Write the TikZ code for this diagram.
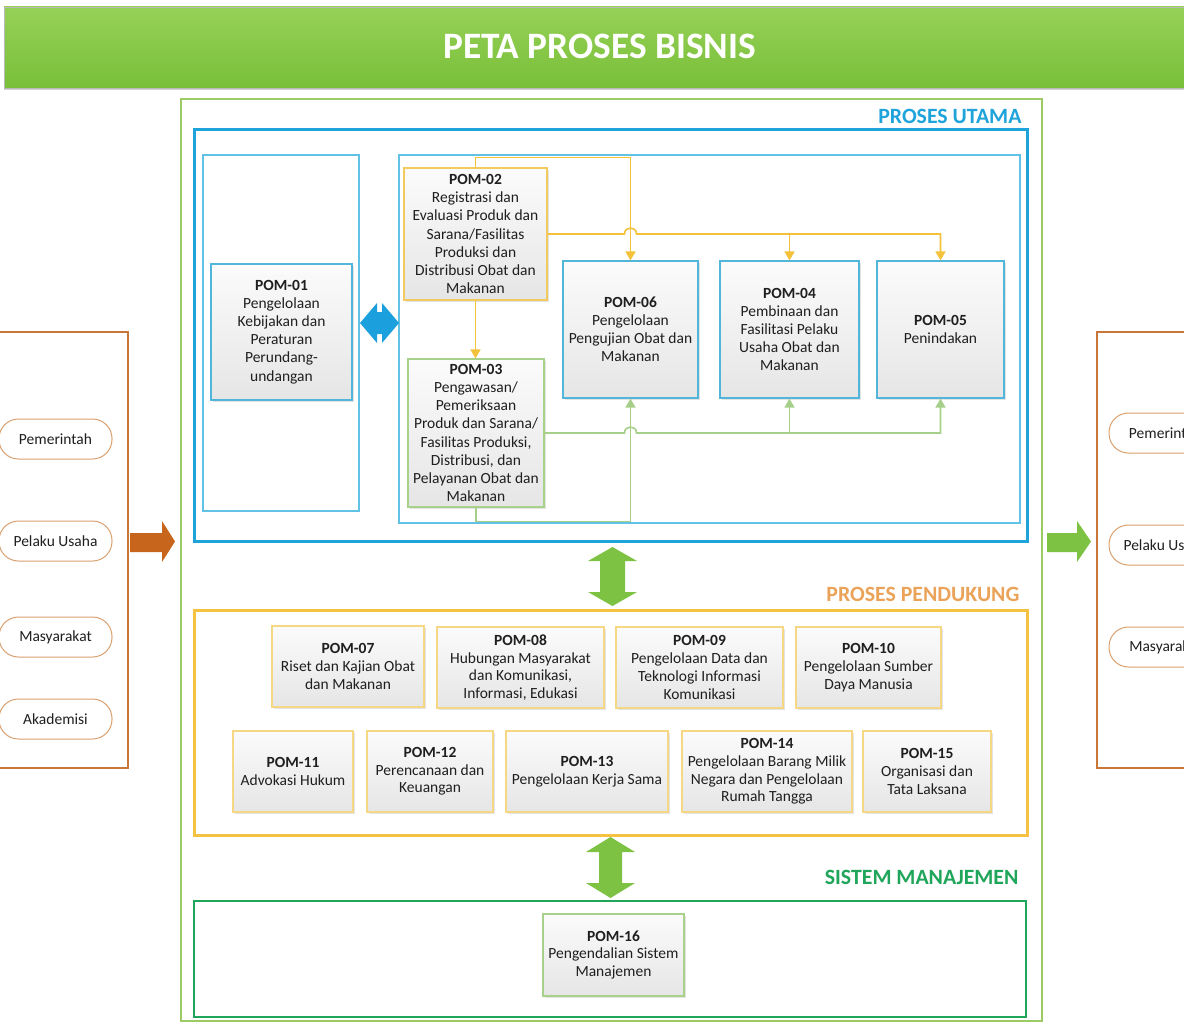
\documentclass[tikz,border=0pt]{standalone}
\usepackage{fontspec}
\setmainfont{Carlito}
\usetikzlibrary{shadows,calc,arrows.meta}
\definecolor{bannerTop}{HTML}{96D157}
\definecolor{bannerBot}{HTML}{79BF39}
\definecolor{outerGreen}{HTML}{9CCB66}
\definecolor{utamaBlue}{HTML}{1EA3DB}
\definecolor{innerBlue}{HTML}{62C2E6}
\definecolor{boxBlue}{HTML}{52B5DA}
\definecolor{boxGold}{HTML}{F3CA5E}
\definecolor{boxLGreen}{HTML}{A8D18A}
\definecolor{lowGold}{HTML}{F6D783}
\definecolor{lineGold}{HTML}{F4C13A}
\definecolor{lineGreen}{HTML}{A6D08A}
\definecolor{pendGold}{HTML}{F5C242}
\definecolor{pendText}{HTML}{EBA35A}
\definecolor{smGreen}{HTML}{20A65A}
\definecolor{orangeFrame}{HTML}{C87738}
\definecolor{ovalLine}{HTML}{D9A070}
\definecolor{orangeArrow}{HTML}{C8651C}
\definecolor{greenArrow}{HTML}{7DC242}
\definecolor{dblBlue}{HTML}{1B9FDD}
\definecolor{txt}{HTML}{1F1F1F}
\begin{document}
\begin{tikzpicture}[x=1pt,y=-1pt,
  pombox/.style={draw, line width=1.2pt, top color=gray!3, bottom color=gray!20,
    inner sep=0pt, align=center, text=txt,
    drop shadow={opacity=0.22, shadow xshift=1.5pt, shadow yshift=-1.5pt}},
  topfont/.style={font=\fontsize{15.5}{18.1}\selectfont},
  lowfont/.style={font=\fontsize{15.5}{17.7}\selectfont},
  lowbox/.style={pombox, lowfont, draw=lowGold, minimum height=81pt},
  oval/.style={draw=ovalLine, line width=1pt, fill=white, rounded corners=19.5pt,
    minimum width=113pt, minimum height=40pt, inner sep=0pt, text=txt,
    font=\fontsize{15.5}{18}\selectfont},
  grouplabel/.style={anchor=base east, font=\fontsize{21.8}{24}\selectfont\bfseries},
  yline/.style={draw=lineGold, line width=1.6pt, -{Triangle[width=10pt,length=9pt]}},
  gline/.style={draw=lineGreen, line width=1.6pt, -{Triangle[width=10pt,length=9pt]}}
]
\useasboundingbox (0,0) rectangle (1184,1025);
\clip (0,0) rectangle (1184,1025);
\fill[white] (0,0) rectangle (1184,1025);

% banner
\path[top color=bannerTop, bottom color=bannerBot, draw=gray!55, line width=0.8pt,
  drop shadow={opacity=0.35, shadow xshift=0pt, shadow yshift=-2pt}] (4,7) rectangle (1200,88);
\node[anchor=base, text=white, font=\fontsize{37.3}{40}\selectfont\bfseries] (title) at (599.5,59) {PETA PROSES BISNIS};

% side panels
\draw[orangeFrame, line width=1.8pt] (-10,332) rectangle (128,768);
\draw[orangeFrame, line width=1.8pt] (1097,332) rectangle (1210,768);

\node[oval] (l1) at (55.5,439) {Pemerintah};
\node[oval] (l2) at (55.5,541) {Pelaku Usaha};
\node[oval] (l3) at (55.5,637) {Masyarakat};
\node[oval] (l4) at (55.5,719) {Akademisi};
\node[oval] (r1) at (1165.5,433) {Pemerintah};
\node[oval] (r2) at (1165.5,545) {Pelaku Usaha};
\node[oval] (r3) at (1165.5,647) {Masyarakat};

% in/out block arrows
\fill[orangeArrow] (130,533) -- (162,533) -- (162,521) -- (175,541.5) -- (162,562) -- (162,552) -- (130,552) -- cycle;
\fill[greenArrow] (1047,533) -- (1077,533) -- (1077,521) -- (1091,541.5) -- (1077,562) -- (1077,552) -- (1047,552) -- cycle;

% containers
\draw[outerGreen, line width=2pt] (181,99) rectangle (1042,1021);
\draw[utamaBlue, line width=3pt] (194,129) rectangle (1027,541);
\draw[innerBlue, line width=1.3pt] (203,155) rectangle (359,511);
\draw[innerBlue, line width=1.3pt] (399,155) rectangle (1020,523);
\draw[pendGold, line width=3pt] (194,610) rectangle (1027,835);
\draw[smGreen, line width=2.5pt] (194,901) rectangle (1026,1017);

\node[grouplabel, text=utamaBlue] (lblutama) at (1025,124) {PROSES UTAMA};
\node[grouplabel, text=pendText] (lblpend) at (1023,601) {PROSES PENDUKUNG};
\node[grouplabel, text=smGreen] (lblsm) at (1022,884) {SISTEM MANAJEMEN};

% proses utama boxes
\node[pombox, topfont, draw=boxBlue, minimum width=141pt, minimum height=136pt] (pom01) at (281.5,332)
  {\textbf{POM-01}\\Pengelolaan\\Kebijakan dan\\Peraturan\\Perundang-\\undangan};
\node[pombox, topfont, draw=boxGold, minimum width=143pt, minimum height=132pt] (pom02) at (475.5,234)
  {\textbf{POM-02}\\Registrasi dan\\Evaluasi Produk dan\\Sarana/Fasilitas\\Produksi dan\\Distribusi Obat dan\\Makanan};
\node[pombox, topfont, draw=boxLGreen, minimum width=136pt, minimum height=148pt] (pom03) at (476,433)
  {\textbf{POM-03}\\Pengawasan/\\Pemeriksaan\\Produk dan Sarana/\\Fasilitas Produksi,\\Distribusi, dan\\Pelayanan Obat dan\\Makanan};
\node[pombox, topfont, draw=boxBlue, minimum width=135pt, minimum height=137pt] (pom06) at (630.5,329.5)
  {\textbf{POM-06}\\Pengelolaan\\Pengujian Obat dan\\Makanan};
\node[pombox, topfont, draw=boxBlue, minimum width=139pt, minimum height=137pt] (pom04) at (789.5,329.5)
  {\textbf{POM-04}\\Pembinaan dan\\Fasilitasi Pelaku\\Usaha Obat dan\\Makanan};
\node[pombox, topfont, draw=boxBlue, minimum width=127pt, minimum height=137pt] (pom05) at (940.5,329.5)
  {\textbf{POM-05}\\Penindakan};

% blue double arrow
\fill[dblBlue] (360,323) -- (377,303) -- (377,312) -- (382,312) -- (382,303) -- (399,323)
  -- (382,343) -- (382,334) -- (377,334) -- (377,343) -- cycle;

% yellow connectors from POM-02
\draw[yline] (pom02.north) -- ++(0,-10) -| (pom06.north);
\coordinate (yj) at (pom06.north |- pom02.east);
\draw[yline] (pom02.east) -- ($(yj)+(-6,0)$) .. controls ($(yj)+(-6,-8)$) and ($(yj)+(6,-8)$) .. ($(yj)+(6,0)$)
  -- (pom05.north |- pom02.east) -- (pom05.north);
\draw[yline] (pom04.north |- pom02.east) -- (pom04.north);
\draw[yline] (pom02.south) -- (pom02.south |- pom03.north);

% green connectors from POM-03
\draw[gline] (pom03.south) -- ++(0,14) -| (pom06.south);
\coordinate (gj) at (pom06.south |- pom03.east);
\draw[gline] (pom03.east) -- ($(gj)+(-6,0)$) .. controls ($(gj)+(-6,-8)$) and ($(gj)+(6,-8)$) .. ($(gj)+(6,0)$)
  -- (pom05.south |- pom03.east) -- (pom05.south);
\draw[gline] (pom04.south |- pom03.east) -- (pom04.south);

% vertical green double arrows
\fill[greenArrow] (612.5,547) -- (637,561) -- (625,561) -- (625,592) -- (637,592) -- (612.5,606)
  -- (588,592) -- (600,592) -- (600,561) -- (588,561) -- cycle;
\fill[greenArrow] (610.5,837) -- (635,852) -- (622,852) -- (622,883) -- (635,883) -- (610.5,898)
  -- (586,883) -- (599,883) -- (599,852) -- (586,852) -- cycle;

% proses pendukung boxes
\node[lowbox, minimum width=152pt] (pom07) at (348,666.5) {\textbf{POM-07}\\Riset dan Kajian Obat\\dan Makanan};
\node[lowbox, minimum width=167pt] (pom08) at (520.5,667.5) {\textbf{POM-08}\\Hubungan Masyarakat\\dan Komunikasi,\\Informasi, Edukasi};
\node[lowbox, minimum width=167pt] (pom09) at (699.5,667.5) {\textbf{POM-09}\\Pengelolaan Data dan\\Teknologi Informasi\\Komunikasi};
\node[lowbox, minimum width=145pt] (pom10) at (868.5,667.5) {\textbf{POM-10}\\Pengelolaan Sumber\\Daya Manusia};
\node[lowbox, minimum width=120pt] (pom11) at (293,771.5) {\textbf{POM-11}\\Advokasi Hukum};
\node[lowbox, minimum width=126pt] (pom12) at (430,771.5) {\textbf{POM-12}\\Perencanaan dan\\Keuangan};
\node[lowbox, minimum width=162pt] (pom13) at (587,771.5) {\textbf{POM-13}\\Pengelolaan Kerja Sama};
\node[lowbox, minimum width=170pt] (pom14) at (767,771.5) {\textbf{POM-14}\\Pengelolaan Barang Milik\\Negara dan Pengelolaan\\Rumah Tangga};
\node[lowbox, minimum width=128pt] (pom15) at (927,771.5) {\textbf{POM-15}\\Organisasi dan\\Tata Laksana};

% sistem manajemen
\node[pombox, lowfont, draw=boxLGreen, minimum width=141pt, minimum height=82pt] (pom16) at (613.5,955)
  {\textbf{POM-16}\\Pengendalian Sistem\\Manajemen};
\end{tikzpicture}
\end{document}
